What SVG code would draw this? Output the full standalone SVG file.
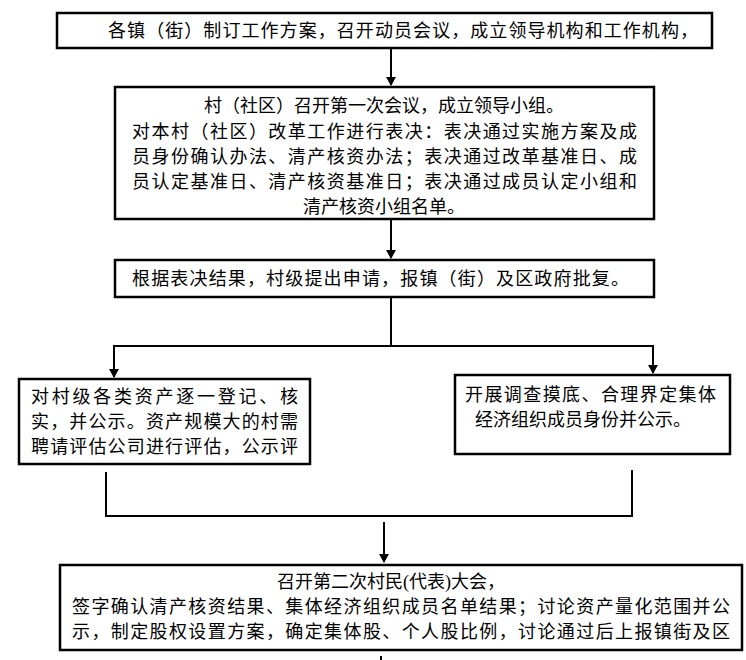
<svg xmlns="http://www.w3.org/2000/svg" width="746" height="660" viewBox="0 0 746 660">
<style>
.b{fill:#fff;stroke:#000;stroke-width:2.5}
.t{font-family:"Liberation Serif","Noto Sans CJK SC",serif;font-size:18px;fill:#000}
.c{stroke:#000;stroke-width:2;fill:none}
</style>
<defs><marker id="a" markerWidth="10" markerHeight="10" refX="8" refY="5" orient="auto" markerUnits="userSpaceOnUse"><path d="M0,0 L9,5 L0,10 z" fill="#000"/></marker></defs>
<rect width="746" height="660" fill="#fff"/>
<g id="n1"><rect class="b" x="57" y="13" width="655" height="35"/>
<text class="t" x="108" y="37" textLength="590" lengthAdjust="spacing">各镇（街）制订工作方案，召开动员会议，成立领导机构和工作机构，</text></g>
<g id="n2"><rect class="b" x="115" y="87" width="539" height="132"/>
<text class="t" x="384" y="112" text-anchor="middle">村（社区）召开第一次会议，成立领导小组。</text>
<text class="t" x="132" y="138" textLength="505" lengthAdjust="spacing">对本村（社区）改革工作进行表决：表决通过实施方案及成</text>
<text class="t" x="132" y="163" textLength="505" lengthAdjust="spacing">员身份确认办法、清产核资办法；表决通过改革基准日、成</text>
<text class="t" x="132" y="188" textLength="505" lengthAdjust="spacing">员认定基准日、清产核资基准日；表决通过成员认定小组和</text>
<text class="t" x="384" y="213" text-anchor="middle">清产核资小组名单。</text></g>
<g id="n3"><rect class="b" x="115" y="260" width="539" height="37"/>
<text class="t" x="132" y="285" textLength="497" lengthAdjust="spacing">根据表决结果，村级提出申请，报镇（街）及区政府批复。</text></g>
<g id="n4"><rect class="b" x="19" y="379" width="291" height="85"/>
<text class="t" x="31" y="403" textLength="267" lengthAdjust="spacing">对村级各类资产逐一登记、核</text>
<text class="t" x="31" y="428" textLength="267" lengthAdjust="spacing">实，并公示。资产规模大的村需</text>
<text class="t" x="31" y="453" textLength="267" lengthAdjust="spacing">聘请评估公司进行评估，公示评</text></g>
<g id="n5"><rect class="b" x="455" y="375" width="275" height="79"/>
<text class="t" x="465" y="401" textLength="251" lengthAdjust="spacing">开展调查摸底、合理界定集体</text>
<text class="t" x="475" y="426">经济组织成员身份并公示。</text></g>
<g id="n6"><rect class="b" x="60" y="565" width="682" height="85"/>
<text class="t" x="391" y="588" text-anchor="middle">召开第二次村民(代表)大会，</text>
<text class="t" x="72" y="613" textLength="658" lengthAdjust="spacing">签字确认清产核资结果、集体经济组织成员名单结果；讨论资产量化范围并公</text>
<text class="t" x="72" y="638" textLength="658" lengthAdjust="spacing">示，制定股权设置方案，确定集体股、个人股比例，讨论通过后上报镇街及区</text></g>
<g id="connectors">
<line class="c" x1="391" y1="48" x2="391" y2="85" marker-end="url(#a)"/>
<line class="c" x1="391" y1="220" x2="391" y2="258" marker-end="url(#a)"/>
<line class="c" x1="391" y1="298" x2="391" y2="345"/>
<polyline class="c" points="114,377 114,346 653,346 653,373"/>
<line class="c" x1="114" y1="370" x2="114" y2="377" marker-end="url(#a)"/>
<line class="c" x1="653" y1="366" x2="653" y2="373" marker-end="url(#a)"/>
<polyline class="c" points="106,472 106,516 632,516 632,470"/>
<line class="c" x1="384" y1="522" x2="384" y2="562" marker-end="url(#a)"/>
<line class="c" x1="381" y1="656" x2="381" y2="660"/>
</g>
</svg>
